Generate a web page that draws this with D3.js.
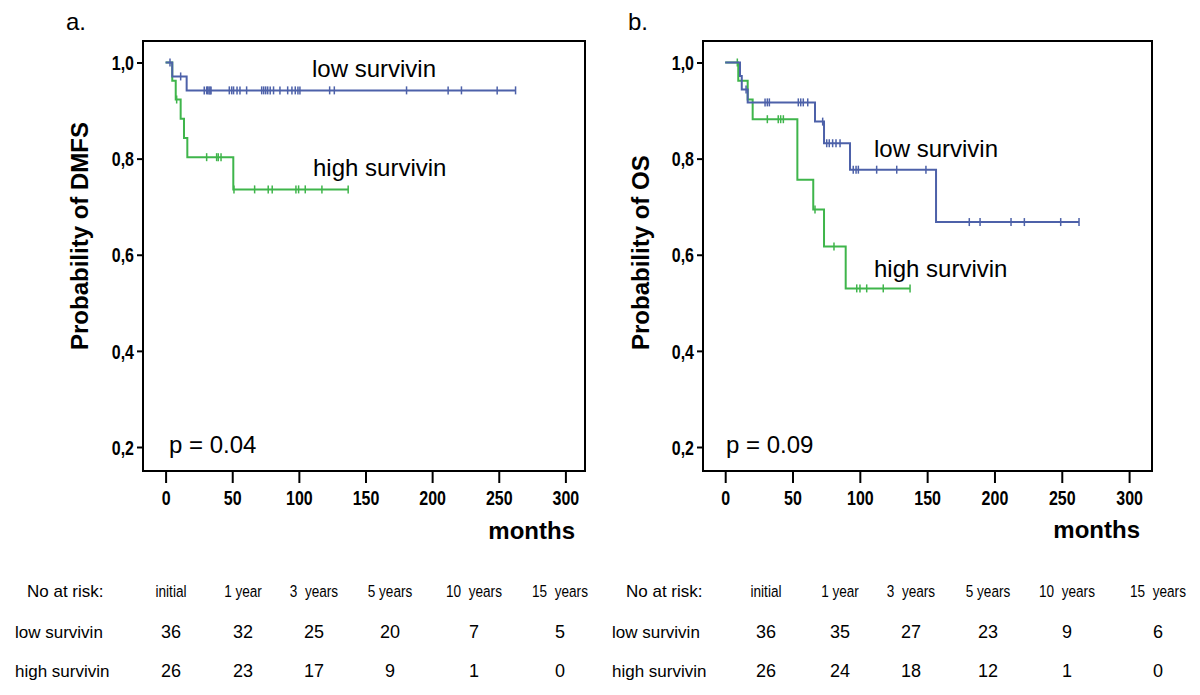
<!DOCTYPE html>
<html>
<head>
<meta charset="utf-8">
<script src="https://cdn.jsdelivr.net/npm/d3@7"></script>
<style>
  html, body { margin: 0; padding: 0; background: #fff; }
  svg { display: block; }
  .sans { font-family: "Liberation Sans", Arial, sans-serif; }
</style>
</head>
<body>
<svg id="chart" width="1200" height="695"></svg>
<script>
// ---------------- DATA ----------------
const panelTitles = ["a.", "b."];
const yAxisTitles = ["Probability of DMFS", "Probability of OS"];
const pValueLabels = ["p = 0.04", "p = 0.09"];
const groupNames = ["low survivin", "high survivin"];
const xTickValues = [0, 50, 100, 150, 200, 250, 300];
const yTickValues = [0.2, 0.4, 0.6, 0.8, 1.0];
const yTickLabels = ["0,2", "0,4", "0,6", "0,8", "1,0"];
const xAxisTitle = "months";

// Kaplan-Meier steps: [months, survival after event]
const dmfsLowSteps = [[0, 1], [5, 0.971], [15.8, 0.942]];
const dmfsLowEnd = 262.6;
const dmfsLowCensored = [3.3, 11.3, 29, 30.8, 31.6, 32.6, 33.4, 34.1, 47.8, 49.6, 51, 53.6, 55.8, 60.8,
  72.1, 73.6, 75.1, 76.6, 78.5, 81, 85.8, 91.6, 94.8, 97.3, 99.3, 100.8, 123.1, 126.6,
  180.8, 212, 222, 248.8, 262.6];

const dmfsHighSteps = [[0, 1], [5, 0.962], [7.6, 0.923], [11.3, 0.883], [13.8, 0.843], [16.3, 0.803], [50.8, 0.736]];
const dmfsHighEnd = 137;
const dmfsHighCensored = [8.3, 30.8, 38.3, 39.5, 41.6, 51.3, 66.8, 77, 80, 97.8, 99.8, 104.8, 117.3, 137];

const osLowSteps = [[0, 1], [11, 0.972], [12.3, 0.944], [16.7, 0.917], [66.7, 0.877], [73.4, 0.832], [92.7, 0.777], [156.6, 0.668]];
const osLowEnd = 262.8;
const osLowCensored = [15.5, 29.6, 31.3, 32.8, 54.3, 56.1, 58, 61.3, 72.4, 75.4, 77.3, 79.8, 82.3, 85.3,
  95.1, 97.2, 98.9, 112.5, 127.4, 149.1, 181.3, 189.3, 212.3, 222.2, 249.2, 262.8];

const osHighSteps = [[0, 1], [9.7, 0.962], [16.7, 0.923], [20.4, 0.882], [53.6, 0.756], [65.4, 0.694], [73.4, 0.617], [89.5, 0.530]];
const osHighEnd = 137.3;
const osHighCensored = [9, 31.3, 39.4, 41.2, 43.2, 66.7, 80.8, 97.7, 100.1, 105.1, 117.4, 137.3];

// Number at risk table
const riskHeader = "No at risk:";
const riskColumns = ["initial", "1 year", "3  years", "5 years", "10  years", "15  years"];
const dmfsLowAtRisk = [36, 32, 25, 20, 7, 5];
const dmfsHighAtRisk = [26, 23, 17, 9, 1, 0];
const osLowAtRisk = [36, 35, 27, 23, 9, 6];
const osHighAtRisk = [26, 24, 18, 12, 1, 0];

// ---------------- LAYOUT / STYLE ----------------
const colors = { low: "#4d61a9", high: "#3fb54b" };
const NARROW = 0.8; // horizontal compression emulating a narrow face
const layouts = [
  { frame: [143, 41, 585, 471], xRange: [165.6, 565.4], yRange: [447, 62.5],
    title: [66, 30], yTitle: [88, 350], months: [575, 539], p: [169, 453],
    lowLbl: [312, 77], highLbl: [313, 176],
    tableLeft: 15, headLeft: 27, cols: [171, 243, 314, 390, 474, 560] },
  { frame: [703, 41, 1152, 471], xRange: [725.2, 1129.1], yRange: [447, 62.5],
    title: [628, 30], yTitle: [649, 350], months: [1140, 538], p: [726, 453],
    lowLbl: [874, 157], highLbl: [874, 277],
    tableLeft: 612, headLeft: 626, cols: [766, 840, 911, 988, 1067, 1158] }
];
const rowY = { head: 597, low: 638, high: 677 };

const panelsData = [
  { low: { steps: dmfsLowSteps, end: dmfsLowEnd, cens: dmfsLowCensored },
    high: { steps: dmfsHighSteps, end: dmfsHighEnd, cens: dmfsHighCensored },
    lowRisk: dmfsLowAtRisk, highRisk: dmfsHighAtRisk },
  { low: { steps: osLowSteps, end: osLowEnd, cens: osLowCensored },
    high: { steps: osHighSteps, end: osHighEnd, cens: osHighCensored },
    lowRisk: osLowAtRisk, highRisk: osHighAtRisk }
];

const svg = d3.select("#chart");

function survAt(steps, t) {
  let s = 1;
  for (const [tt, v] of steps) { if (tt <= t) s = v; }
  return s;
}

panelsData.forEach((pd, i) => {
  const L = layouts[i];
  const g = svg.append("g");
  const x = d3.scaleLinear().domain([0, 300]).range(L.xRange);
  const y = d3.scaleLinear().domain([0.2, 1.0]).range(L.yRange);
  const [fl, ft, fr, fb] = L.frame;

  // frame
  g.append("rect").attr("x", fl).attr("y", ft).attr("width", fr - fl).attr("height", fb - ft)
    .attr("fill", "none").attr("stroke", "#000").attr("stroke-width", 2);

  // y axis
  const yAxis = d3.axisLeft(y).tickValues(yTickValues).tickSize(6)
    .tickFormat((d, k) => yTickLabels[k]);
  const ya = g.append("g").attr("transform", `translate(${fl},0)`).call(yAxis);
  ya.select(".domain").remove();
  ya.selectAll(".tick line").attr("stroke", "#000").attr("stroke-width", 2);
  ya.selectAll(".tick text").attr("class", "sans").attr("font-size", 20).attr("font-weight", "bold")
    .attr("fill", "#000").attr("x", -9 / NARROW).attr("dy", "0.36em")
    .attr("transform", `scale(${NARROW},1)`);

  // x axis (detached below frame)
  const xAxis = d3.axisBottom(x).tickValues(xTickValues).tickSize(12).tickFormat(d3.format("d"));
  const xa = g.append("g").attr("transform", `translate(0,${fb})`).call(xAxis);
  xa.select(".domain").remove();
  xa.selectAll(".tick line").attr("stroke", "#000").attr("stroke-width", 2);
  xa.selectAll(".tick text").attr("class", "sans").attr("font-size", 20).attr("font-weight", "bold")
    .attr("fill", "#000").attr("y", 20).attr("dy", "0.71em")
    .attr("transform", `scale(${NARROW},1)`);

  // titles
  g.append("text").attr("class", "sans").attr("x", L.title[0]).attr("y", L.title[1])
    .attr("font-size", 24).text(panelTitles[i]);
  g.append("text").attr("class", "sans").attr("font-weight", "bold").attr("font-size", 24)
    .attr("transform", `translate(${L.yTitle[0]},${L.yTitle[1]}) rotate(-90)`)
    .text(yAxisTitles[i]);
  g.append("text").attr("class", "sans").attr("font-weight", "bold").attr("font-size", 24)
    .attr("text-anchor", "end").attr("x", L.months[0]).attr("y", L.months[1]).text(xAxisTitle);
  g.append("text").attr("class", "sans").attr("font-size", 24)
    .attr("x", L.p[0]).attr("y", L.p[1]).text(pValueLabels[i]);

  // curves
  const line = d3.line().x(d => x(d[0])).y(d => y(d[1])).curve(d3.curveStepAfter);
  [["high", colors.high], ["low", colors.low]].forEach(([key, col]) => {
    const c = pd[key];
    const pts = c.steps.concat([[c.end, c.steps[c.steps.length - 1][1]]]);
    g.append("path").attr("d", line(pts)).attr("fill", "none").attr("stroke", col).attr("stroke-width", 2);
    g.selectAll(null).data(c.cens).enter().append("line")
      .attr("x1", d => x(d)).attr("x2", d => x(d))
      .attr("y1", d => y(survAt(c.steps, d)) - 4).attr("y2", d => y(survAt(c.steps, d)) + 4)
      .attr("stroke", col).attr("stroke-width", 1.5);
  });

  // group labels
  g.append("text").attr("class", "sans").attr("font-size", 24)
    .attr("x", L.lowLbl[0]).attr("y", L.lowLbl[1]).text(groupNames[0]);
  g.append("text").attr("class", "sans").attr("font-size", 24)
    .attr("x", L.highLbl[0]).attr("y", L.highLbl[1]).text(groupNames[1]);

  // number at risk table
  g.append("text").attr("class", "sans").attr("font-size", 17)
    .attr("x", L.headLeft).attr("y", rowY.head).text(riskHeader);
  g.selectAll(null).data(riskColumns).enter().append("text")
    .attr("class", "sans").attr("font-size", 17).attr("text-anchor", "middle")
    .style("white-space", "pre")
    .attr("transform", (d, k) => `translate(${L.cols[k]},${rowY.head}) scale(${NARROW},1)`)
    .text(d => d);
  g.append("text").attr("class", "sans").attr("font-size", 17)
    .attr("x", L.tableLeft).attr("y", rowY.low).text(groupNames[0]);
  g.append("text").attr("class", "sans").attr("font-size", 17)
    .attr("x", L.tableLeft).attr("y", rowY.high).text(groupNames[1]);
  g.selectAll(null).data(pd.lowRisk).enter().append("text")
    .attr("class", "sans").attr("font-size", 18).attr("text-anchor", "middle")
    .attr("x", (d, k) => L.cols[k]).attr("y", rowY.low).text(d => d);
  g.selectAll(null).data(pd.highRisk).enter().append("text")
    .attr("class", "sans").attr("font-size", 18).attr("text-anchor", "middle")
    .attr("x", (d, k) => L.cols[k]).attr("y", rowY.high).text(d => d);
});
</script>
</body>
</html>
